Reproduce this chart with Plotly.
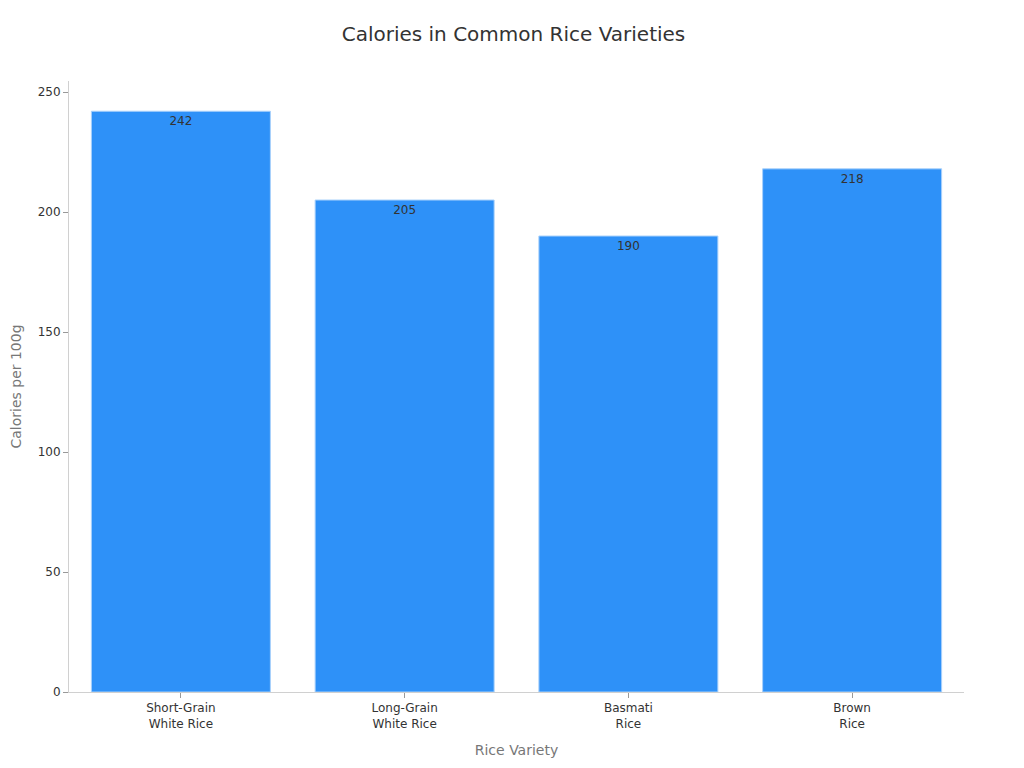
import plotly.graph_objects as go

varieties = ['Short-Grain<br>White Rice', 'Long-Grain<br>White Rice', 'Basmati<br>Rice', 'Brown<br>Rice']
calories = [242, 205, 190, 218]

fig = go.Figure(go.Bar(
    x=varieties,
    y=calories,
    text=calories,
    textposition='inside',
    insidetextanchor='end',
    textfont=dict(color='#333333', size=12),
    marker=dict(color='#2E91F8', line=dict(color='#A9D1FB', width=1)),
))

fig.update_layout(
    title=dict(text='Calories in Common Rice Varieties', x=505.5 / 1024, xanchor='center',
               y=1 - 26 / 768, yanchor='middle',
               font=dict(size=20, color='#333333')),
    font=dict(family='DejaVu Sans', color='#333333'),
    width=1024, height=768,
    margin=dict(l=61, r=68, t=73, b=84),
    plot_bgcolor='white', paper_bgcolor='white',
    bargap=0.2,
    showlegend=False,
)
fig.update_xaxes(
    title=dict(text='Rice Variety', font=dict(size=14, color='#777777')),
    showline=True, linecolor='#D0D0D0', ticks='outside', tickcolor='#999999',
    ticklen=5, tickfont=dict(size=12), showgrid=False, automargin=False,
)
fig.update_yaxes(
    title=dict(text='Calories per 100g', font=dict(size=14, color='#777777')),
    range=[0, 254.6], dtick=50,
    showline=True, linecolor='#D0D0D0', ticks='outside', tickcolor='#999999',
    ticklen=5, tickfont=dict(size=12), showgrid=False, zeroline=False,
    automargin=False,
)

fig.write_html('out.html')
